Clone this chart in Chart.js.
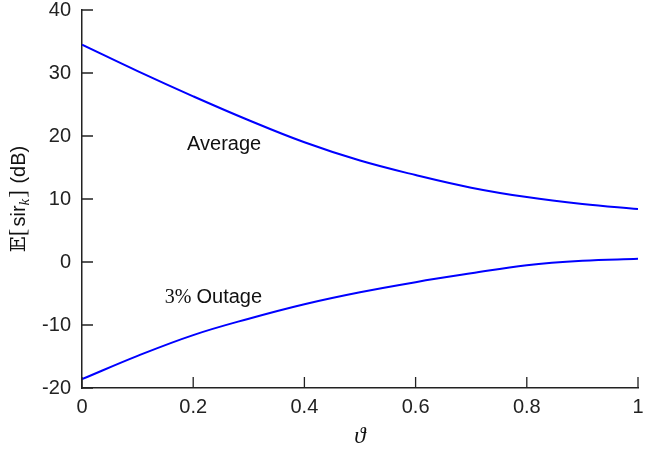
<!DOCTYPE html>
<html>
<head>
<meta charset="utf-8">
<script src="https://cdn.jsdelivr.net/npm/chart.js@4.4.1/dist/chart.umd.min.js"></script>
<style>
  html, body { margin: 0; padding: 0; background: #fff; }
  #wrap { width: 657px; height: 451px; }
</style>
</head>
<body>
<div id="wrap"><canvas id="sirChart"></canvas></div>
<script>
// values
var theta = [0, 0.1, 0.2, 0.3, 0.4, 0.5, 0.6, 0.7, 0.8, 0.9, 1.0];
var averageSir = [34.5, 30.3, 26.3, 22.5, 19.0, 16.1, 13.8, 11.8, 10.3, 9.2, 8.4];
var outageSir = [-18.6, -14.9, -11.6, -9.0, -6.7, -4.8, -3.2, -1.8, -0.5, 0.2, 0.5];
var xTicks = [0, 0.2, 0.4, 0.6, 0.8, 1];
var yTicks = [-20, -10, 0, 10, 20, 30, 40];

function toPoints(xs, ys) {
    var pts = [];
    for (var i = 0; i < xs.length; i++) {
        pts.push({x: xs[i], y: ys[i]});
    }
    return pts;
}

var axisColor = '#222';
var sans = '"Liberation Sans", Arial, sans-serif';
var serif = '"Liberation Serif", "Times New Roman", serif';

// ticks drawn inside the plot, like the original
var inwardTicks = {
    id: 'inwardTicks',
    afterDraw: function (chart) {
        var ctx = chart.ctx;
        var xs = chart.scales.x, ys = chart.scales.y;
        var area = chart.chartArea;
        ctx.save();
        ctx.strokeStyle = axisColor;
        ctx.lineWidth = 1.3;
        ctx.beginPath();
        xTicks.forEach(function (v) {
            var px = xs.getPixelForValue(v);
            ctx.moveTo(px, area.bottom);
            ctx.lineTo(px, area.bottom - 11);
        });
        yTicks.forEach(function (v) {
            var py = ys.getPixelForValue(v);
            ctx.moveTo(area.left, py);
            ctx.lineTo(area.left + 11, py);
        });
        ctx.stroke();
        ctx.restore();
    }
};

// curve labels placed in data coordinates
var curveLabels = {
    id: 'curveLabels',
    afterDatasetsDraw: function (chart) {
        var ctx = chart.ctx;
        var xs = chart.scales.x, ys = chart.scales.y;
        ctx.save();
        ctx.fillStyle = '#111';
        ctx.textBaseline = 'middle';
        ctx.textAlign = 'left';
        ctx.font = '20px ' + sans;
        ctx.fillText('Average', xs.getPixelForValue(0.189), ys.getPixelForValue(18.7));

        var ox = xs.getPixelForValue(0.149), oy = ys.getPixelForValue(-5.6);
        ctx.font = '20px ' + serif;
        ctx.fillText('3%', ox, oy);
        var w = ctx.measureText('3% ').width;
        ctx.font = '20px ' + sans;
        ctx.fillText('Outage', ox + w, oy);
        ctx.restore();
    }
};

// y title with math parts: E[sir_k] (dB)
var yTitle = {
    id: 'yTitle',
    afterDraw: function (chart) {
        var ctx = chart.ctx;
        var area = chart.chartArea;
        var parts = [
            {t: '𝔼', f: '21px "DejaVu Serif", ' + serif, dy: 0},
            {t: '[', f: '23px ' + serif, dy: 0},
            {t: 'sir', f: '20px ' + sans, dy: 0},
            {t: 'k', f: 'italic 15px ' + serif, dy: 4},
            {t: ']', f: '23px ' + serif, dy: 0},
            {t: ' (dB)', f: '20px ' + sans, dy: 0}
        ];
        ctx.save();
        ctx.fillStyle = '#111';
        ctx.textBaseline = 'alphabetic';
        ctx.textAlign = 'left';
        var total = 0;
        parts.forEach(function (p) {
            ctx.font = p.f;
            p.w = ctx.measureText(p.t).width + (p.t === '[' || p.t === ']' ? 2 : 0);
            total += p.w;
        });
        ctx.translate(25, (area.top + area.bottom) / 2);
        ctx.rotate(-Math.PI / 2);
        var x = -total / 2;
        parts.forEach(function (p) {
            ctx.font = p.f;
            ctx.fillText(p.t, x + (p.t === ']' ? 1 : 0), p.dy);
            x += p.w;
        });
        ctx.restore();
    }
};

function makeChart() {
    var el = document.getElementById('sirChart');

    var dataAverage = {
        label: 'Average',
        data: toPoints(theta, averageSir),
        borderColor: '#0000ff',
        borderWidth: 2,
        pointRadius: 0,
        fill: false,
        tension: 0.4
    };

    var dataOutage = {
        label: '3% Outage',
        data: toPoints(theta, outageSir),
        borderColor: '#0000ff',
        borderWidth: 2,
        pointRadius: 0,
        fill: false,
        tension: 0.4
    };

    var tickFont = {family: sans, size: 20};

    new Chart(el, {
        type: 'line',
        data: {datasets: [dataAverage, dataOutage]},
        plugins: [inwardTicks, curveLabels, yTitle],
        options: {
            responsive: true,
            maintainAspectRatio: false,
            animation: false,
            layout: {padding: {top: 10, right: 19, left: 0, bottom: 0}},
            plugins: {
                legend: {display: false},
                tooltip: {enabled: false}
            },
            scales: {
                x: {
                    type: 'linear',
                    min: 0,
                    max: 1,
                    afterFit: function (s) { s.height = 63; s.paddingLeft = 0; s.paddingRight = 0; },
                    afterBuildTicks: function (s) {
                        s.ticks = xTicks.map(function (v) { return {value: v}; });
                    },
                    ticks: {
                        color: axisColor, font: tickFont, padding: 7, maxRotation: 0,
                        callback: function (v) { return String(Math.round(v * 10) / 10); }
                    },
                    grid: {display: true, drawOnChartArea: false, drawTicks: false},
                    border: {display: true, color: axisColor, width: 1.5},
                    title: {
                        display: true,
                        text: 'ϑ',
                        color: '#111',
                        font: {family: serif, size: 23, style: 'italic'},
                        padding: {top: 0, bottom: 0}
                    }
                },
                y: {
                    min: -20,
                    max: 40,
                    afterFit: function (s) { s.width = 82; s.paddingTop = 0; s.paddingBottom = 0; },
                    afterBuildTicks: function (s) {
                        s.ticks = yTicks.map(function (v) { return {value: v}; });
                    },
                    ticks: {color: axisColor, font: tickFont, padding: 11},
                    grid: {display: true, drawOnChartArea: false, drawTicks: false},
                    border: {display: true, color: axisColor, width: 1.5}
                }
            }
        }
    });
}

document.addEventListener('DOMContentLoaded', makeChart);
</script>
</body>
</html>
